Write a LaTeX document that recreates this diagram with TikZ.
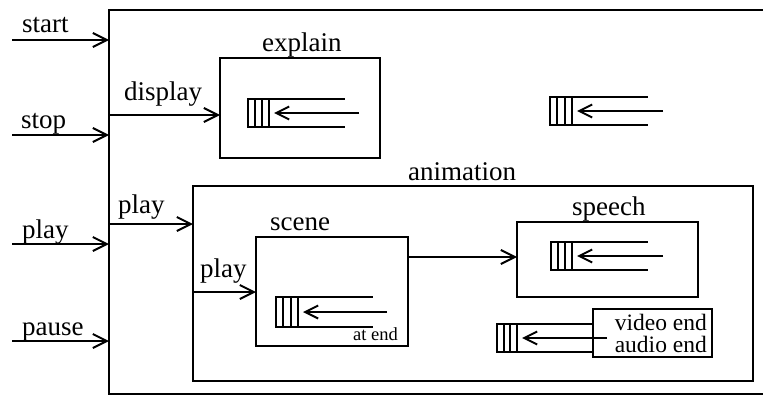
\documentclass[tikz,border=0pt]{standalone}
\usepackage{fontspec}
\setmainfont{Liberation Serif}
\usetikzlibrary{arrows.meta,calc}
\tikzset{
  box/.style={draw, line width=2.2pt, inner sep=0pt, outer sep=0pt},
  arr/.style={line width=2pt, -{Straight Barb[length=14pt,width=14pt,line width=2pt]}},
  iarr/.style={line width=2pt, -{Straight Barb[length=13pt,width=13pt,line width=2pt]}},
  ic/.style={line width=2pt},
  lbl/.style={inner sep=0pt, anchor=base west, font=\fontsize{27}{30}\selectfont},
  lblsm/.style={inner sep=0pt, anchor=base east, font=\fontsize{23.5}{25}\selectfont},
  lbltiny/.style={inner sep=0pt, anchor=base west, font=\fontsize{18.5}{20}\selectfont},
}
% queue icon: left, top, bottom, right, line end, arrow start
\newcommand{\qicon}[6]{%
  \draw[ic] (#1,#2) rectangle (#4,#3);
  \draw[ic] ({#1+(#4-#1)/3},#2) -- ({#1+(#4-#1)/3},#3);
  \draw[ic] ({#1+2*(#4-#1)/3},#2) -- ({#1+2*(#4-#1)/3},#3);
  \draw[ic] (#4,#2) -- (#5,#2);
  \draw[ic] (#4,#3) -- (#5,#3);
  \draw[iarr] (#6,{(#2+#3)/2}) -- ({#4+5},{(#2+#3)/2});
}
\begin{document}
\begin{tikzpicture}[x=1pt,y=-1pt]
\useasboundingbox (0,0) rectangle (763,396);
% outer box (right side outside the picture)
\draw[line width=2.2pt] (770,10) -- (109,10) -- (109,394) -- (770,394);
% inputs
\coordinate (inStart) at (12,40);
\coordinate (inStop) at (12,135);
\coordinate (inPlay) at (12,244);
\coordinate (inPause) at (12,341);
\coordinate (edgeStart) at (109,40);
\coordinate (edgeStop) at (109,135);
\coordinate (edgePlay) at (109,244);
\coordinate (edgePause) at (109,341);
\draw[arr] (inStart) -- (edgeStart);
\draw[arr] (inStop) -- (edgeStop);
\draw[arr] (inPlay) -- (edgePlay);
\draw[arr] (inPause) -- (edgePause);
\node[lbl] (tStart) at (22,33) {start};
\node[lbl] (tStop) at (21,128) {stop};
\node[lbl] (tPlay) at (22,238) {play};
\node[lbl] (tPause) at (22,335) {pause};
% boxes
\node[box, minimum width=160pt, minimum height=100pt] (explain) at (300,108) {};
\node[box, minimum width=560pt, minimum height=195pt] (anim) at (473,283.5) {};
\node[box, minimum width=152pt, minimum height=109pt] (scene) at (332,291.5) {};
\node[box, minimum width=181pt, minimum height=75pt] (speech) at (607.5,259.5) {};
\node[box, minimum width=119pt, minimum height=48pt] (ve) at (652.5,333) {};
% labels
\node[lbl] (tExplain) at (262,52) {explain};
\node[lbl] (tAnim) at (408,180) {animation};
\node[lbl] (tScene) at (270,230) {scene};
\node[lbl] (tSpeech) at (572,215) {speech};
\node[lbl] (tDisplay) at (124,100) {display};
\node[lbl] (tPlayA) at (118,213) {play};
\node[lbl] (tPlayS) at (200,277) {play};
\node[lbltiny] (tAtEnd) at (353,340) {at end};
\node[lblsm] (tVideo) at (707,330) {video end};
\node[lblsm] (tAudio) at (707,352) {audio end};
% connectors
\coordinate (dOut) at (109,115);
\draw[arr] (dOut) -- (dOut -| explain.west);
\coordinate (aOut) at (109,224);
\draw[arr] (aOut) -- (aOut -| anim.west);
\coordinate (sOut) at (193,292);
\draw[arr] (sOut) -- (sOut -| scene.west);
\coordinate (spOut) at (408,257);
\draw[arr] (spOut) -- (spOut -| speech.west);
% queue icons
\qicon{248}{99}{127}{269}{345}{359}
\qicon{550}{97}{125}{572}{648}{663}
\qicon{276}{297}{327}{298}{373}{387}
\qicon{551}{242}{270}{572}{648}{663}
\qicon{497}{324}{352}{517}{593}{607}
\end{tikzpicture}
\end{document}
